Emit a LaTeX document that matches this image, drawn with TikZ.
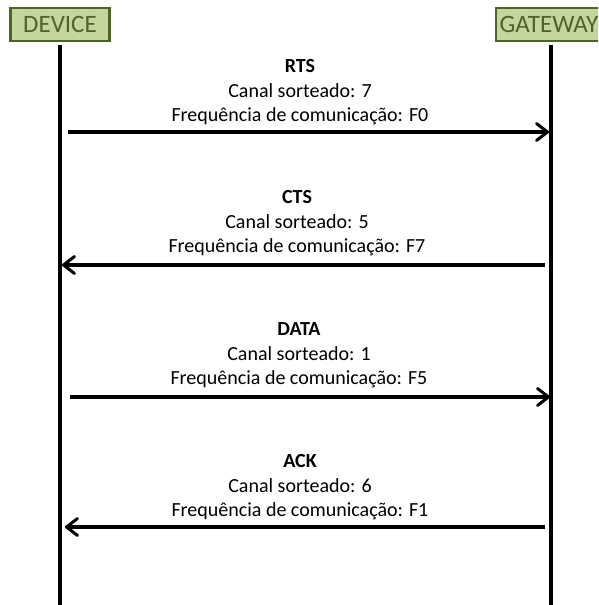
\documentclass[tikz,border=0pt]{standalone}
\usepackage{fontspec}
\setmainfont{Carlito}
\usetikzlibrary{arrows.meta}
\definecolor{boxfill}{HTML}{C3D69B}
\definecolor{boxline}{HTML}{4F6228}
\tikzset{
  actor/.style={draw=boxline, line width=2.2pt, fill=boxfill, text=boxline,
    font=\fontsize{25}{27}\selectfont, inner sep=0pt, minimum height=33pt},
  lifeline/.style={line width=3.6pt, black},
  msg/.style={line width=3.4pt, black, -{Straight Barb[length=11pt, width=17pt, line width=3pt, round]}},
  label/.style={align=center, font=\fontsize{20}{24.5}\selectfont}
}
\begin{document}
\begin{tikzpicture}[x=1pt, y=-1pt]
\useasboundingbox (0,0) rectangle (598,605);
\begin{scope}
\clip (0,0) rectangle (598,605);
% actors
\node[actor, minimum width=99pt] (dev) at (60,24.5) {DEVICE};
\node[actor, anchor=west, inner xsep=3.5pt] (gw) at (495,24.5) {GATEWAY\hspace*{8pt}};
% lifeline ends
\coordinate (d0) at (60,45);
\coordinate (d1) at (60,606);
\coordinate (g0) at (551,45);
\coordinate (g1) at (551,606);
\draw[lifeline] (d0) -- (d1);
\draw[lifeline] (g0) -- (g1);
% message endpoints
\coordinate (r1) at (68,132);  \coordinate (r2) at (549,132);
\coordinate (c1) at (545,265); \coordinate (c2) at (62,265);
\coordinate (a1) at (70,397);  \coordinate (a2) at (550,397);
\coordinate (k1) at (545,527); \coordinate (k2) at (65,527);
\draw[msg] (r1) -- (r2);
\draw[msg] (c1) -- (c2);
\draw[msg] (a1) -- (a2);
\draw[msg] (k1) -- (k2);
% labels
\node[label] (rts) at (300,92.5) {\textbf{RTS}\\Canal sorteado: 7\\Frequência de comunicação: F0};
\node[label] (cts) at (297,223.5) {\textbf{CTS}\\Canal sorteado: 5\\Frequência de comunicação: F7};
\node[label] (dat) at (299,355.5) {\textbf{DATA}\\Canal sorteado: 1\\Frequência de comunicação: F5};
\node[label] (ack) at (300,487.5) {\textbf{ACK}\\Canal sorteado: 6\\Frequência de comunicação: F1};
\end{scope}
\end{tikzpicture}
\end{document}
